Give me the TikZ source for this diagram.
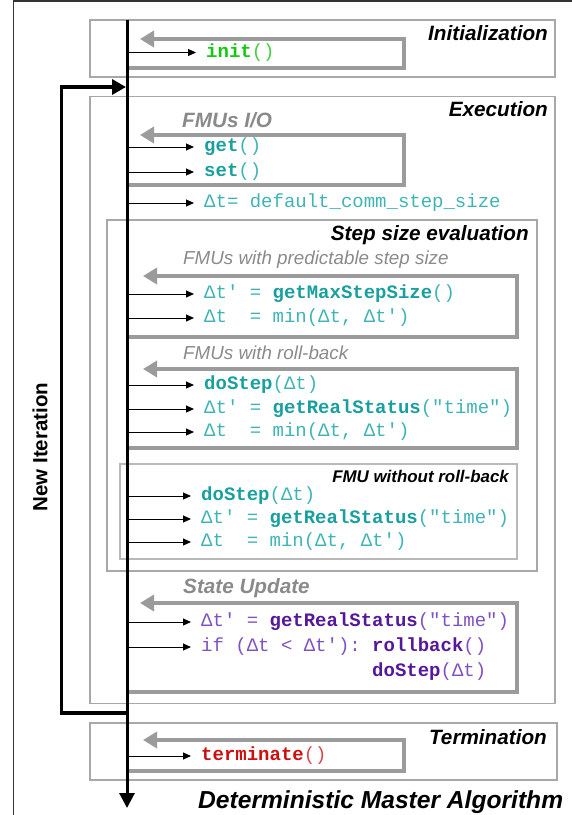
\documentclass[tikz,border=0pt]{standalone}
\usepackage{fontspec}
\usetikzlibrary{arrows.meta}
\newfontfamily\cf{Liberation Mono}
\newfontfamily\lf{Liberation Sans}
\definecolor{tealb}{HTML}{1A9F9F}
\definecolor{tealr}{HTML}{40B4B4}
\definecolor{grnb}{HTML}{14C814}
\definecolor{grnr}{HTML}{40D040}
\definecolor{redb}{HTML}{CC1010}
\definecolor{redr}{HTML}{D84848}
\definecolor{prpb}{HTML}{55189A}
\definecolor{prpr}{HTML}{7F52C2}
\definecolor{loopgray}{HTML}{9B9B9B}
\definecolor{boxgray}{HTML}{A8A8A8}
\definecolor{lblgray}{HTML}{8A8A8A}
\newcommand\kwt[1]{\textcolor{tealb}{\bfseries #1}}
\newcommand\kwp[1]{\textcolor{prpb}{\bfseries #1}}
\newcommand\kwg[1]{\textcolor{grnb}{\bfseries #1}}
\newcommand\kwr[1]{\textcolor{redb}{\bfseries #1}}
\tikzset{
  frame/.style={draw=black!80, line width=1.3pt},
  secbox/.style={draw=boxgray, line width=1.7pt},
  thinbox/.style={draw=boxgray!80, line width=1.2pt},
  loopline/.style={draw=loopgray, line width=4pt, line join=miter,
     -{Triangle[length=14pt,width=16pt]}},
  spine/.style={line width=3pt, -{Triangle[length=15pt,width=15pt]}},
  iterline/.style={line width=3.3pt, line join=miter, -{Triangle[length=14pt,width=15pt]}},
  call/.style={line width=1pt, -{Triangle[length=8pt,width=7pt]}},
  code/.style={anchor=west, inner xsep=10pt, inner ysep=0pt, text height=12pt, text depth=3pt,
     font=\cf\fontsize{19}{22}\selectfont\frenchspacing},
  seclabel/.style={anchor=base east, inner sep=0pt, font=\lf\bfseries\itshape\fontsize{20.7}{24}\selectfont},
  sublabel/.style={anchor=base west, inner sep=0pt, text=lblgray, font=\lf\bfseries\itshape\fontsize{20.7}{24}\selectfont},
  sublabelr/.style={anchor=base west, inner sep=0pt, text=lblgray, font=\lf\itshape\fontsize{18.8}{22}\selectfont},
}
\begin{document}
\begin{tikzpicture}[x=1pt,y=-1pt]
\useasboundingbox (0,0) rectangle (572,815);
% outer frame
\draw[frame] (13.7,815) -- (13.7,1) -- (572,1);
\coordinate (sp) at (127,0);

% ---------- Initialization
\draw[secbox] (90,20) rectangle (555,77);
\node[seclabel] (linit) at (548,40) {Initialization};
\draw[loopline] (127,68) -- (404,68) -- (404,39) -- (140,39);
\node[code,text=grnr] (init) at (196,52.5) {\kwg{init}()};
\draw[call] (init.west -| sp) -- (init.west);

% ---------- Execution
\draw[secbox] (90,96.5) rectangle (555,703.5);
\node[seclabel] (lexec) at (548,116) {Execution};
\node[sublabel] (lio) at (182,127) {FMUs I/O};
\draw[loopline] (127,185) -- (404,185) -- (404,135) -- (140,135);
\node[code,text=tealr] (get) at (194,147) {\kwt{get}()};
\draw[call] (get.west -| sp) -- (get.west);
\node[code,text=tealr] (set) at (194,172) {\kwt{set}()};
\draw[call] (set.west -| sp) -- (set.west);
\node[code,text=tealr] (dflt) at (194,203) {Δt= default\_comm\_step\_size};
\draw[call] (dflt.west -| sp) -- (dflt.west);

% ---------- Step size evaluation
\draw[secbox] (107,220) rectangle (537,571);
\node[seclabel] (lstep) at (529,240) {Step size evaluation};

\node[sublabelr] (lpred) at (183,264) {FMUs with predictable step size};
\draw[loopline] (127,337) -- (517,337) -- (517,276) -- (143,276);
\node[code,text=tealr] (p1) at (194,294) {Δt' = \kwt{getMaxStepSize}()};
\draw[call] (p1.west -| sp) -- (p1.west);
\node[code,text=tealr] (p2) at (194,318) {Δt~~= min(Δt, Δt')};
\draw[call] (p2.west -| sp) -- (p2.west);

\node[sublabelr] (lroll) at (183,359) {FMUs with roll-back};
\draw[loopline] (127,448) -- (517,448) -- (517,369) -- (143,369);
\node[code,text=tealr] (r1) at (194,385) {\kwt{doStep}(Δt)};
\draw[call] (r1.west -| sp) -- (r1.west);
\node[code,text=tealr] (r2) at (194,409) {Δt' = \kwt{getRealStatus}("time")};
\draw[call] (r2.west -| sp) -- (r2.west);
\node[code,text=tealr] (r3) at (194,432) {Δt~~= min(Δt, Δt')};
\draw[call] (r3.west -| sp) -- (r3.west);

\draw[thinbox] (120,464) rectangle (517,559);
\node[seclabel,font=\lf\bfseries\itshape\fontsize{16.9}{20}\selectfont] (lnoroll) at (509,482) {FMU without roll-back};
\node[code,text=tealr] (w1) at (191,496) {\kwt{doStep}(Δt)};
\draw[call] (w1.west -| sp) -- (w1.west);
\node[code,text=tealr] (w2) at (191,519) {Δt' = \kwt{getRealStatus}("time")};
\draw[call] (w2.west -| sp) -- (w2.west);
\node[code,text=tealr] (w3) at (191,542) {Δt~~= min(Δt, Δt')};
\draw[call] (w3.west -| sp) -- (w3.west);

% ---------- State update
\node[sublabel] (lsu) at (183,593) {State Update};
\draw[loopline] (127,692) -- (517,692) -- (517,603) -- (140,603);
\node[code,text=prpr] (s1) at (191,622) {Δt' = \kwp{getRealStatus}("time")};
\draw[call] (s1.west -| sp) -- (s1.west);
\node[code,text=prpr] (s2) at (191,647) {if (Δt < Δt'): \kwp{rollback}()};
\draw[call] (s2.west -| sp) -- (s2.west);
\node[code,text=prpr] (s3) at (362,672) {\kwp{doStep}(Δt)};

% ---------- Termination
\draw[secbox] (90,723) rectangle (557,780);
\node[seclabel] (lterm) at (547,744) {Termination};
\draw[loopline] (127,771) -- (404,771) -- (404,740) -- (143,740);
\node[code,text=redr] (term) at (191,756) {\kwr{terminate}()};
\draw[call] (term.west -| sp) -- (term.west);

% ---------- spine and iteration loop
\coordinate (top) at (127,20);
\coordinate (bot) at (127,808);
\draw[spine] (top) -- (bot);
\coordinate (itb) at (127,713);
\coordinate (itt) at (126,87);
\draw[iterline] (itb) -- (61.5,713) -- (61.5,87) -- (itt);
\node[rotate=90, inner sep=0pt, font=\lf\bfseries\fontsize{20.5}{24}\selectfont] (newit) at (40,447) {New Iteration};

\node[anchor=base west, inner sep=0pt, font=\lf\bfseries\itshape\fontsize{24.6}{28}\selectfont] (title) at (198,808) {Deterministic Master Algorithm};
\end{tikzpicture}
\end{document}
